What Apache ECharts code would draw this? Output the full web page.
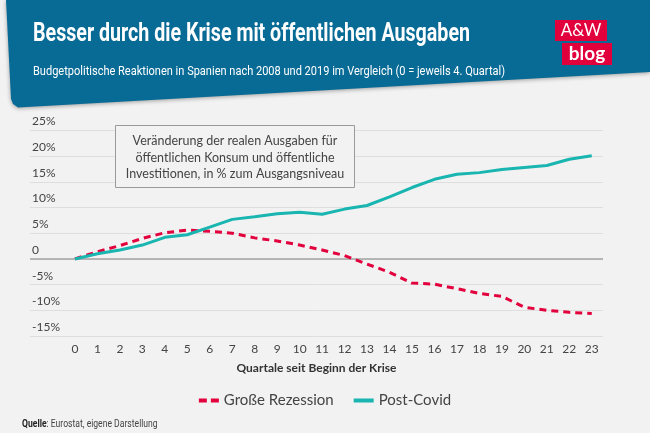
<!DOCTYPE html>
<html>
<head>
<meta charset="utf-8">
<script src="https://cdn.jsdelivr.net/npm/echarts@6/dist/echarts.min.js"></script>
<style>
  html, body { margin: 0; padding: 0; background: #f2f2f2; }
  #chart { width: 650px; height: 433px; }
</style>
</head>
<body>
<div id="chart"></div>
<script>
// Quartale seit Beginn der Krise
const quartale = [0, 1, 2, 3, 4, 5, 6, 7, 8, 9, 10, 11, 12, 13, 14, 15, 16, 17, 18, 19, 20, 21, 22, 23]
// Veränderung in % zum Ausgangsniveau
const grosseRezession = [0, 1.4, 2.6, 4.0, 5.1, 5.6, 5.4, 5.0, 4.1, 3.5, 2.7, 1.75, 0.65, -1.0, -2.6, -4.7, -4.9, -5.8, -6.7, -7.3, -9.4, -10.0, -10.4, -10.6]
const postCovid = [0, 1.0, 1.75, 2.7, 4.2, 4.7, 6.2, 7.7, 8.2, 8.8, 9.1, 8.7, 9.7, 10.4, 12.1, 13.9, 15.5, 16.5, 16.8, 17.4, 17.8, 18.2, 19.4, 20.1]
const yTicks = [-15, -10, -5, 0, 5, 10, 15, 20, 25]

const font = 'Lato, "Open Sans", sans-serif'

// schmale Schrift nachbilden: Text horizontal auf Zielbreite stauchen
const ctx = document.createElement('canvas').getContext('2d')
function squeeze(text, cssFont, width) {
  ctx.font = cssFont
  return width / ctx.measureText(text).width
}

const titleText = 'Besser durch die Krise mit öffentlichen Ausgaben'
const titleFont = 'bold 26px Roboto, sans-serif'
const subText = 'Budgetpolitische Reaktionen in Spanien nach 2008 und 2019 im Vergleich (0 = jeweils 4. Quartal)'
const subFont = '13px Roboto, sans-serif'
const srcFont = '10px Roboto, sans-serif'

const myChart = echarts.init(document.getElementById('chart'))

const option = {
  backgroundColor: '#f2f2f2',
  animation: false,
  textStyle: { fontFamily: font },
  graphic: [
    // blauer Kopfbereich mit schräger Unterkante
    {
      type: 'polygon',
      shape: { points: [[6, 0], [650, 0], [650, 72], [18, 107.5], [13, 104], [11, 99]] },
      style: { fill: '#086b96', shadowBlur: 4, shadowColor: 'rgba(0,0,0,0.35)', shadowOffsetY: 1 },
      z: 1
    },
    {
      type: 'text', x: 33, y: 34, z: 2, scaleX: squeeze(titleText, titleFont, 437),
      style: { text: titleText, fill: '#fff', font: titleFont, verticalAlign: 'middle' }
    },
    {
      type: 'text', x: 33, y: 72, z: 2, scaleX: squeeze(subText, subFont, 472),
      style: { text: subText, fill: '#fff', font: subFont, verticalAlign: 'middle' }
    },
    // Logo
    { type: 'rect', shape: { x: 555, y: 20, width: 52, height: 21 }, style: { fill: '#e1003c' }, z: 2 },
    { type: 'rect', shape: { x: 562, y: 43, width: 50, height: 22 }, style: { fill: '#e1003c' }, z: 2 },
    { type: 'text', x: 581, y: 31, z: 3, style: { text: 'A&W', fill: '#fff', font: '17px ' + font, align: 'center', verticalAlign: 'middle' } },
    { type: 'text', x: 587, y: 54, z: 3, style: { text: 'blog', fill: '#fff', font: 'bold 19px ' + font, align: 'center', verticalAlign: 'middle' } },
    // Erläuterungsbox
    {
      type: 'rect', shape: { x: 115.5, y: 125.5, width: 239, height: 62 },
      style: { fill: '#f2f2f2', stroke: '#9a9a9a', lineWidth: 1 }, z: 5
    },
    {
      type: 'text', x: 235, y: 157.5, z: 6,
      style: {
        text: 'Veränderung der realen Ausgaben für\nöffentlichen Konsum und öffentliche\nInvestitionen, in % zum Ausgangsniveau',
        fill: '#444', font: '12.5px ' + font, align: 'center', verticalAlign: 'middle', lineHeight: 16.5
      }
    },
    // Quelle
    {
      type: 'text', x: 22, y: 424, z: 2, scaleX: squeeze('Quelle: Eurostat, eigene Darstellung', srcFont, 135),
      style: {
        text: '{b|Quelle}: Eurostat, eigene Darstellung',
        fill: '#444', font: srcFont, verticalAlign: 'middle',
        rich: { b: { fontWeight: 'bold', fontSize: 10, fontFamily: 'Roboto, sans-serif', fill: '#222' } }
      }
    }
  ],
  grid: {
    left: 30,
    right: 47,
    top: 130.5,
    bottom: 97
  },
  legend: {
    bottom: 20,
    left: 'center',
    itemGap: 20,
    itemWidth: 20,
    itemHeight: 4,
    textStyle: { color: '#444', fontSize: 15, fontFamily: font },
    data: [
      { name: 'Große Rezession', icon: 'path://M0,0H8V4H0ZM12,0H20V4H12Z' },
      { name: 'Post-Covid', icon: 'rect' }
    ]
  },
  xAxis: {
    type: 'value',
    min: -2,
    max: 23.5,
    interval: 1,
    name: 'Quartale seit Beginn der Krise',
    nameLocation: 'middle',
    nameGap: 26,
    nameTextStyle: { color: '#333', fontWeight: 'bold', fontSize: 12, fontFamily: font },
    axisLine: { show: false, onZero: false },
    axisTick: { show: false },
    splitLine: { show: false },
    axisLabel: {
      color: '#444',
      fontSize: 12,
      margin: 7,
      showMinLabel: true,
      showMaxLabel: true,
      formatter: v => quartale.includes(v) ? String(v) : ''
    }
  },
  yAxis: {
    type: 'value',
    min: yTicks[0],
    max: yTicks[yTicks.length - 1],
    interval: 5,
    axisLine: { show: false },
    axisTick: { show: false },
    axisLabel: {
      inside: true,
      color: '#444',
      fontSize: 12,
      verticalAlign: 'bottom',
      margin: 2,
      padding: [0, 0, 3, 0],
      formatter: v => v === 0 ? '0' : v + '%'
    },
    splitLine: { lineStyle: { color: '#dedede', width: 1 } }
  },
  series: [
    {
      name: 'Große Rezession',
      type: 'line',
      color: '#e2003d',
      symbol: 'none',
      data: quartale.map((q, i) => [q, grosseRezession[i]]),
      lineStyle: { width: 3, type: [7, 5] },
      z: 3,
      markLine: {
        silent: true,
        symbol: 'none',
        label: { show: false },
        lineStyle: { color: '#a3a3a3', width: 1.5, type: 'solid' },
        data: [{ yAxis: 0 }],
        z: 1
      }
    },
    {
      name: 'Post-Covid',
      type: 'line',
      color: '#19b5b0',
      symbol: 'none',
      data: quartale.map((q, i) => [q, postCovid[i]]),
      lineStyle: { width: 3 },
      z: 4
    }
  ]
}

myChart.setOption(option)
</script>
</body>
</html>
